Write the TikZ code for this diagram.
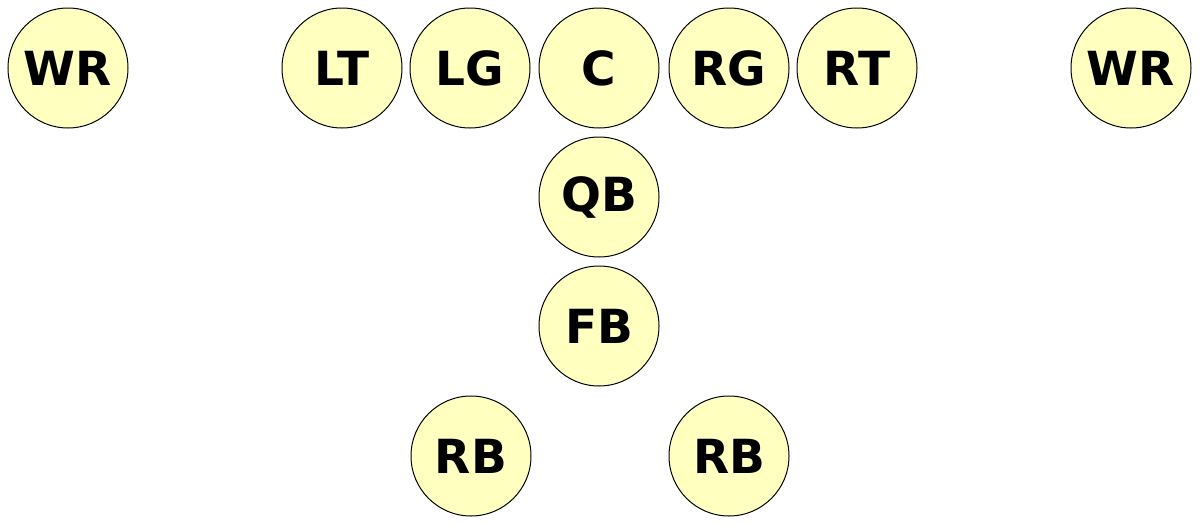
\documentclass[tikz,border=0pt]{standalone}
\usepackage{fontspec}
\setmainfont{DejaVu Sans}
\definecolor{pfill}{HTML}{FFFFC0}
\begin{document}
\begin{tikzpicture}[x=1pt,y=-1pt,
  player/.style={circle,draw=black,line width=1pt,fill=pfill,minimum size=120pt,inner sep=0pt,font=\fontsize{47}{47}\selectfont\bfseries}]
\useasboundingbox (0,0) rectangle (1200,525);
\node[player] (wrl) at (68,68) {WR};
\node[player] (lt) at (342,68) {LT};
\node[player] (lg) at (470,68) {LG};
\node[player] (c) at (599,68) {C};
\node[player] (rg) at (729,68) {RG};
\node[player] (rt) at (857,68) {RT};
\node[player] (wrr) at (1131,68) {WR};
\node[player] (qb) at (599,197) {QB};
\node[player] (fb) at (599,326) {FB};
\node[player] (rbl) at (471,456) {RB};
\node[player] (rbr) at (729,456) {RB};
\end{tikzpicture}
\end{document}
